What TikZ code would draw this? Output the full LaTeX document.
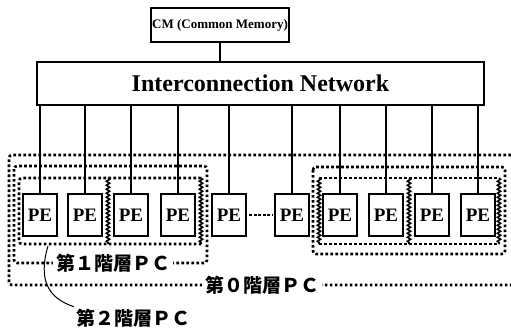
\documentclass[tikz,border=0pt]{standalone}
\usepackage{fontspec}
\setmainfont{Liberation Serif}
\newfontfamily\jpfont{Noto Sans CJK JP}
\usetikzlibrary{decorations.pathmorphing}

\tikzset{
    box/.style={draw, line width=2.1pt, inner sep=0pt},
    pebox/.style={box, minimum width=34pt, minimum height=42pt, font=\bfseries\fontsize{19}{19}\selectfont},
    link/.style={line width=2pt},
    pcline/.style={line width=2.6pt, dash pattern=on 2.6pt off 2.4pt},
    pcwave/.style={line width=1.6pt, decorate, decoration={snake, amplitude=1.6pt, segment length=4pt}},
    pclabel/.style={fill=white, inner sep=3pt, font=\jpfont\bfseries\fontsize{19}{19}\selectfont},
}

\begin{document}
\begin{tikzpicture}[x=1pt, y=-1pt]
    \useasboundingbox (0,0) rectangle (511,332);

    % Level 0 PC (whole machine)
    \draw[pcline, rounded corners=3pt] (516,155) -- (9,155) -- (9,285) -- (516,285);
    \node[pclabel] (lbl0) at (262,285) {第０階層ＰＣ};

    % Level 1 PCs
    \draw[pcline, rounded corners=3pt] (14,166) rectangle (207,263);
    \draw[pcline, rounded corners=3pt] (313,167) rectangle (505,254);
    \node[pclabel] (lbl1) at (113,263) {第１階層ＰＣ};

    % Level 2 PCs
    \draw[pcline, rounded corners=3pt] (201,178) -- (19,178) -- (19,244) -- (201,244);
    \draw[pcline] (319,178) -- (499,178);
    \draw[pcline] (319,244) -- (499,244);
    \foreach \x in {108,201,319,409,499} {
        \draw[pcwave] (\x,178) -- (\x,244);
    }

    % Common memory and network
    \node[box, minimum width=138pt, minimum height=34pt, font=\bfseries\fontsize{13}{14}\selectfont] (cm) at (220,25) {CM (Common Memory)};
    \node[box, minimum width=447pt, minimum height=43pt, font=\bfseries\fontsize{24}{25}\selectfont] (net) at (260.5,83.5) {Interconnection Network};
    \draw[link] (cm.south) -- (cm.south |- net.north);

    % Processing elements
    \foreach \x [count=\i] in {40,85,131,178,229,292,340,386,432,478} {
        \node[pebox, fill=white] (pe\i) at (\x,215) {PE};
        \draw[link] (net.south -| pe\i) -- (pe\i.north);
    }
    \draw[line width=1.2pt, dash pattern=on 3pt off 1.5pt, shorten <=2pt, shorten >=2pt] (pe5) -- (pe6);

    % Level 2 label
    \coordinate (lv2) at (48,246);
    \node[font=\jpfont\bfseries\fontsize{19}{19}\selectfont, inner sep=2pt] (lbl2) at (133,318) {第２階層ＰＣ};
    \draw[line width=1pt] (lv2) .. controls (38,280) and (48,298) .. (lbl2.north west);
\end{tikzpicture}
\end{document}
